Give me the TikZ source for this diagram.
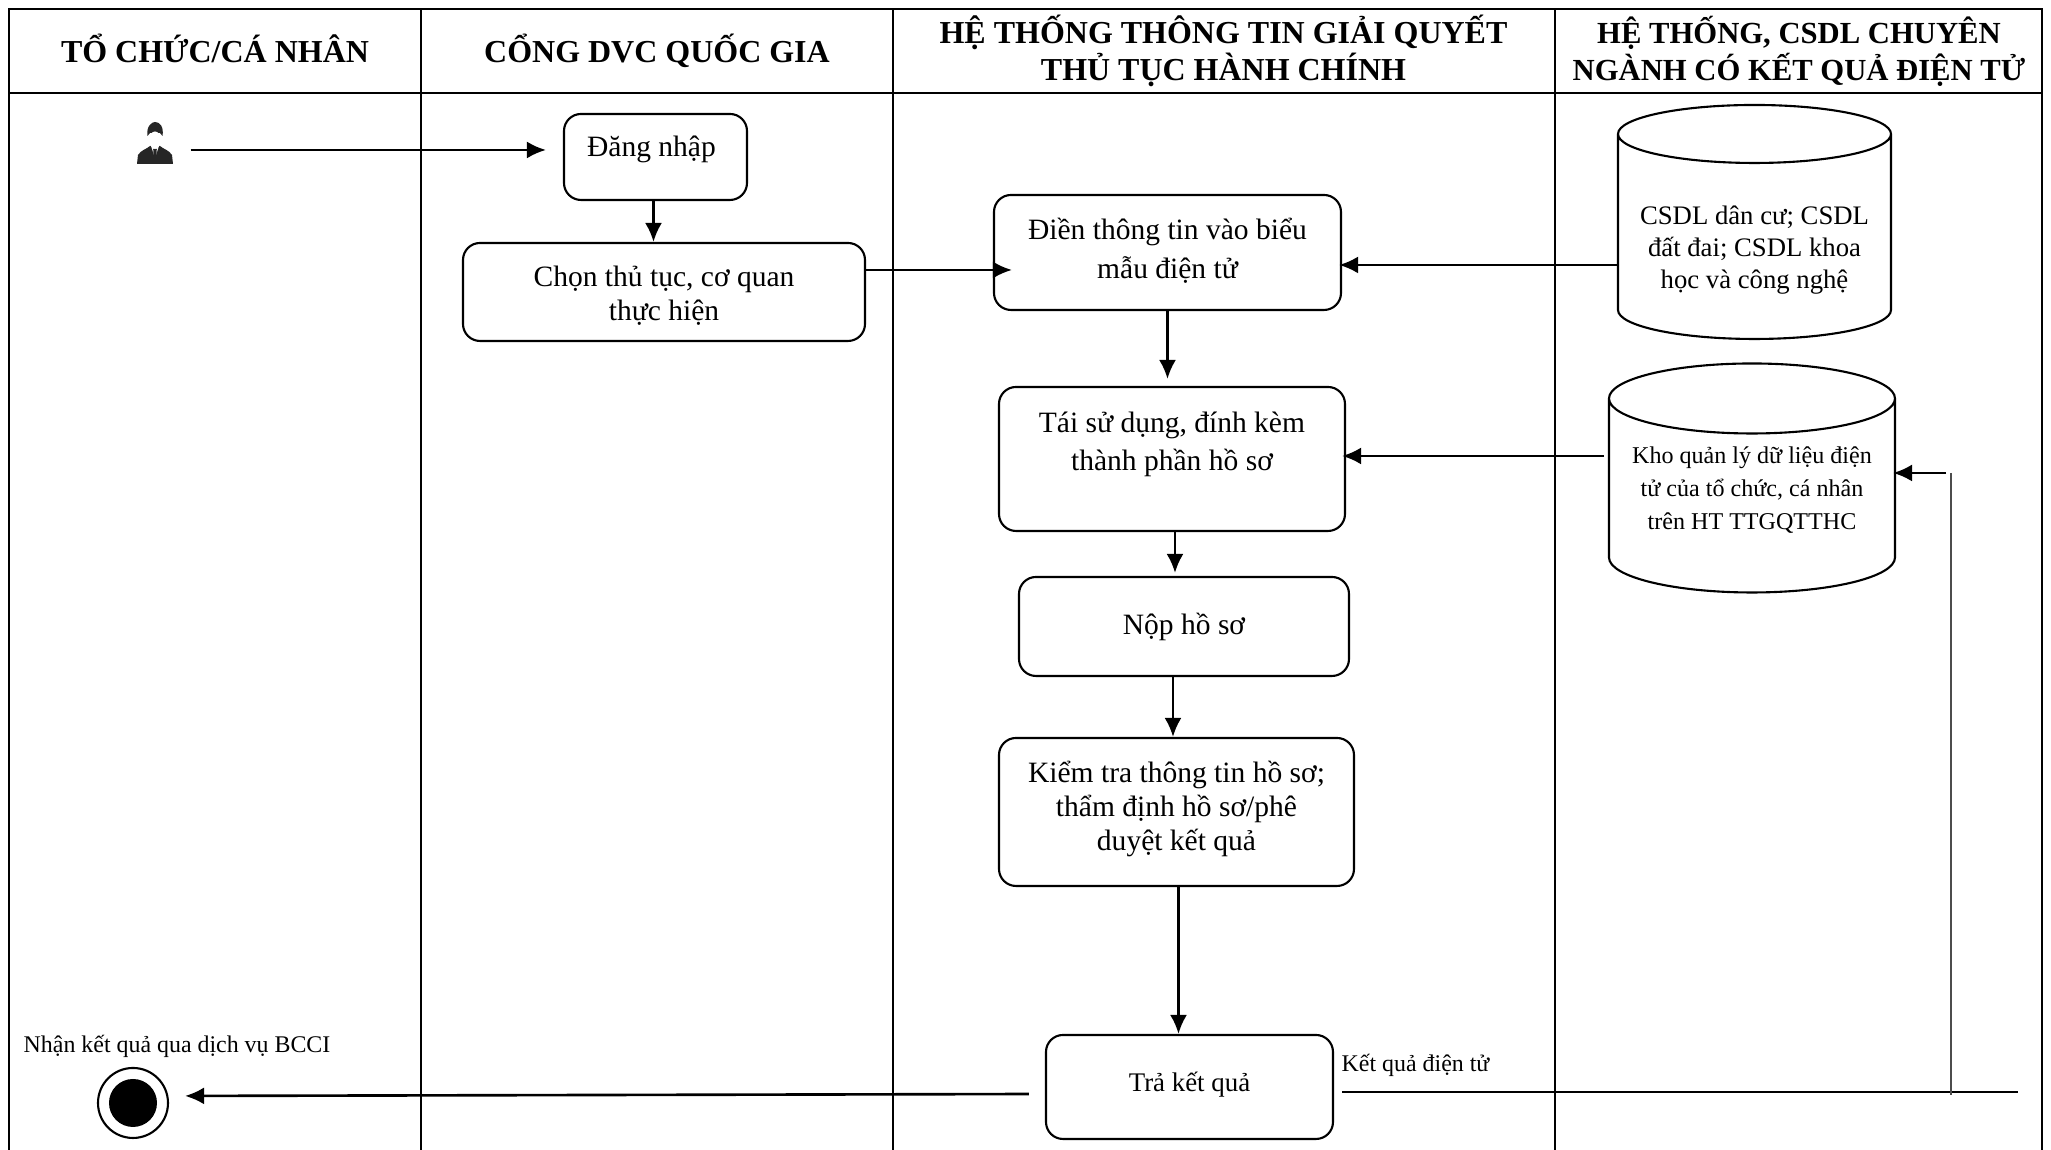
\documentclass[tikz,border=0pt]{standalone}
\usepackage{fontspec}
\setmainfont{Liberation Serif}
\usepackage{xcolor}
\usetikzlibrary{arrows.meta}
\tikzset{
    lane/.style={line width=0.7pt},
    laneHead/.style={align=center,font=\bfseries\fontsize{9.1}{10.5}\selectfont},
    stepbox/.style={draw,line width=0.6pt,rounded corners=0.17cm,align=center,font=\fontsize{8.4}{9.7}\selectfont},
    dbase/.style={inner sep=0pt,outer sep=0pt},
    dbaseText/.style={align=center,inner sep=0pt},
    note/.style={inner sep=0pt,font=\fontsize{6.8}{8}\selectfont},
    flow/.style={line width=0.75pt,-{Latex[length=0.19cm,width=0.17cm]}},
}
% cylinder outline round a node: name, x radius, y radius
\newcommand{\dbOutline}[3]{
    \draw[line width=0.6pt] ([yshift=-#3]#1.north west) arc (180:360:#2 and #3) arc (0:180:#2 and #3)
        -- ([yshift=#3]#1.south west) arc (180:360:#2 and #3) -- ([yshift=-#3]#1.north east);
}
\begin{document}
\begin{tikzpicture}
    \useasboundingbox (0,0) rectangle (20.51,11.5);

    % Swimlanes
    \draw[lane] (0.09,0) -- (0.09,11.41) -- (20.42,11.41) -- (20.42,0);
    \draw[lane] (0.09,10.57) -- (20.42,10.57);
    \draw[lane] (4.21,0) -- (4.21,11.41);
    \draw[lane] (8.93,0) -- (8.93,11.41);
    \draw[lane] (15.55,0) -- (15.55,11.41);
    \node[laneHead] (headA) at (2.15,11.02) {TỔ CHỨC/CÁ NHÂN};
    \node[laneHead] (headB) at (6.57,10.99) {CỔNG DVC QUỐC GIA};
    \node[laneHead] (headC) at (12.235,10.99) {HỆ THỐNG THÔNG TIN GIẢI QUYẾT\\THỦ TỤC HÀNH CHÍNH};
    \node[laneHead,font=\bfseries\fontsize{8.72}{10.5}\selectfont] (headD) at (17.99,10.99) {HỆ THỐNG, CSDL CHUYÊN\\NGÀNH CÓ KẾT QUẢ ĐIỆN TỬ};

    % User icon
    \node[minimum width=0.36cm,minimum height=0.43cm,inner sep=0pt] (user) at (1.55,10.07) {};
    \begin{scope}[shift={(user.center)}]
        \fill[black!85] (-0.18,-0.21) -- (-0.17,-0.12) .. controls (-0.14,-0.07) and (-0.08,-0.06) .. (-0.05,-0.03)
            -- (0.05,-0.03) .. controls (0.08,-0.06) and (0.14,-0.07) .. (0.17,-0.12) -- (0.18,-0.21) -- cycle;
        \fill[white] (-0.04,-0.03) -- (0,-0.15) -- (0.04,-0.03) -- cycle;
        \fill[black!85] (-0.018,-0.06) -- (0.018,-0.06) -- (0.012,-0.15) -- (0,-0.17) -- (-0.012,-0.15) -- cycle;
        \fill[black!85] (-0.075,0.07) .. controls (-0.09,0.17) and (-0.03,0.21) .. (0,0.21)
            .. controls (0.05,0.21) and (0.09,0.16) .. (0.075,0.07) -- (0.05,0.1) -- (-0.05,0.1) -- cycle;
        \fill[white] (0,0.03) ellipse (0.06 and 0.085);
    \end{scope}

    % Steps
    \node[stepbox,minimum width=1.83cm,minimum height=0.86cm] (login) at (6.555,9.93) {Đăng nhập\kern0.08cm\\[-0.13cm]\mbox{}};
    \node[stepbox,minimum width=4.02cm,minimum height=0.98cm] (choose) at (6.64,8.58) {Chọn thủ tục, cơ quan\\thực hiện\\[-0.36cm]\mbox{}};
    \node[stepbox,minimum width=3.47cm,minimum height=1.15cm,font=\fontsize{8.4}{11.2}\selectfont] (form) at (11.675,8.975) {Điền thông tin vào biểu\\mẫu điện tử\\[-0.31cm]\mbox{}};
    \node[stepbox,minimum width=3.46cm,minimum height=1.44cm,font=\fontsize{8.4}{11}\selectfont] (reuse) at (11.72,6.91) {Tái sử dụng, đính kèm\\thành phần hồ sơ\\[-0.03cm]\mbox{}};
    \node[stepbox,minimum width=3.30cm,minimum height=0.99cm] (submit) at (11.84,5.235) {Nộp hồ sơ};
    \node[stepbox,minimum width=3.55cm,minimum height=1.48cm] (check) at (11.765,3.38) {Kiểm tra thông tin hồ sơ;\\thẩm định hồ sơ/phê\\duyệt kết quả\\[-0.21cm]\mbox{}};
    \node[stepbox,minimum width=2.87cm,minimum height=1.04cm,font=\fontsize{7.65}{9}\selectfont] (result) at (11.895,0.63) {Trả kết quả\\[-0.205cm]\mbox{}};

    % Databases
    \node[dbase,minimum width=2.73cm,minimum height=2.34cm] (dbA) at (17.545,9.28) {};
    \dbOutline{dbA}{1.365cm}{0.29cm}
    \node[dbaseText,font=\fontsize{7.6}{9.2}\selectfont] (dbAText) at (17.545,9.00) {CSDL dân cư; CSDL\\đất đai; CSDL khoa\\học và công nghệ};
    \node[dbase,minimum width=2.86cm,minimum height=2.29cm] (dbB) at (17.52,6.72) {};
    \dbOutline{dbB}{1.43cm}{0.35cm}
    \node[dbaseText,font=\fontsize{6.85}{9.4}\selectfont] (dbBText) at (17.52,6.60) {Kho quản lý dữ liệu điện\\tử của tổ chức, cá nhân\\trên HT TTGQTTHC};

    % End state
    \node[draw,circle,line width=0.6pt,minimum size=0.70cm,inner sep=0pt] (finish) at (1.33,0.47) {};
    \fill (finish.center) circle (0.24);
    \node[note,anchor=west] (finishText) at (0.23,1.04) {Nhận kết quả qua dịch vụ BCCI};
    \node[note,anchor=west] (resultText) at (13.41,0.845) {Kết quả điện tử};

    % Free ends of the electronic result line
    \coordinate (lineEnd) at (20.18,0.58);
    \coordinate (lineJoin) at (19.51,0.55);
    \coordinate (lineTop) at (19.51,6.77);

    % Flow
    \draw[flow,shorten <=0.17cm,shorten >=0.17cm] ([yshift=-0.07cm]user.east) -- (login.west |- 0,10.0);
    \draw[flow] ([xshift=-0.02cm]login.south) -- ([xshift=-0.02cm]login.south |- choose.north);
    \draw[flow,shorten >=-0.19cm] ([yshift=0.22cm]choose.east) -- ([yshift=0.22cm]choose.east -| form.west);
    \draw[flow,shorten >=-0.03cm] (dbA.west |- 0,8.85) -- (form.east |- 0,8.85);
    \draw[flow,shorten >=0.07cm] (form.south) -- (form.south |- reuse.north);
    \draw[flow,shorten <=0.05cm,shorten >=-0.04cm] (dbB.west |- 0,6.94) -- (reuse.east |- 0,6.94);
    \draw[flow,shorten >=0.03cm] ([xshift=0.03cm]reuse.south) -- ([xshift=0.03cm]reuse.south |- submit.north);
    \draw[flow] ([xshift=-0.11cm]submit.south) -- ([xshift=-0.11cm]submit.south |- check.north);
    \draw[flow] ([xshift=0.02cm]check.south) -- ([xshift=0.02cm]check.south |- result.north);
    \draw[flow,shorten <=0.16cm,shorten >=0.16cm] ([yshift=-0.07cm]result.west) -- ([yshift=0.07cm]finish.east);
    \draw[line width=0.6pt,shorten <=0.08cm] ([yshift=-0.05cm]result.east) -- (lineEnd);
    \draw[line width=0.35pt,black!70] (lineTop) -- (lineJoin);
    \draw[flow,shorten <=0.05cm,shorten >=-0.02cm] (lineTop) -- (dbB.east |- lineTop);
\end{tikzpicture}
\end{document}
